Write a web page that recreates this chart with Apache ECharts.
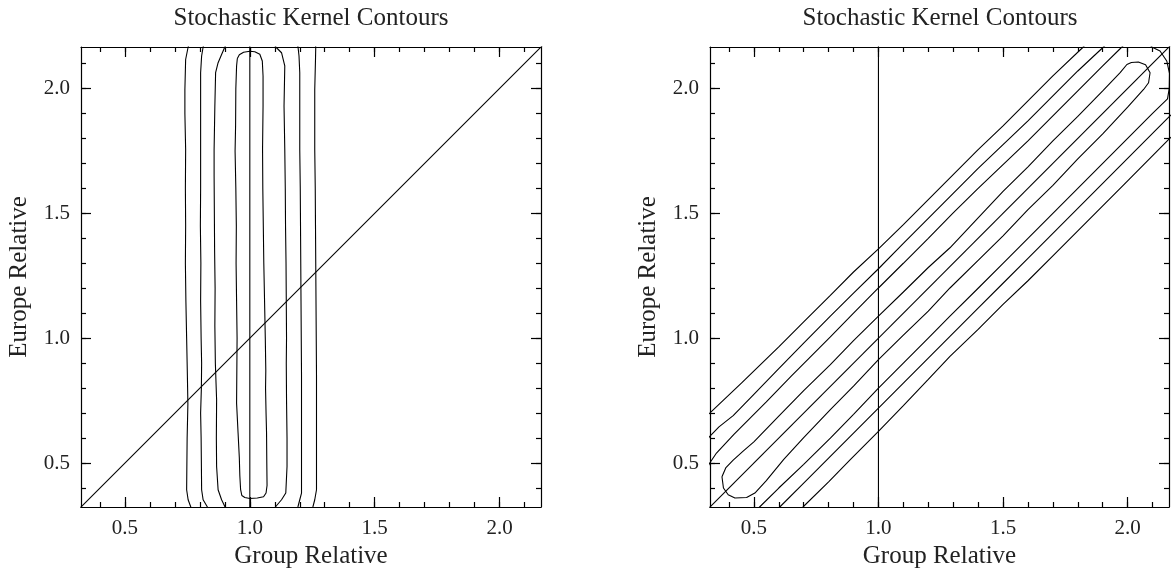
<!DOCTYPE html>
<html>
<head>
<meta charset="utf-8">
<title>Stochastic Kernel Contours</title>
<script src="https://cdn.jsdelivr.net/npm/echarts@6/dist/echarts.min.js"></script>
<style>
  html, body { margin: 0; padding: 0; background: #fff; }
  #chart { width: 1171px; height: 571px; }
</style>
</head>
<body>
<div id="chart"></div>
<script>
// axis range (same for both panels and both axes)
const axMin = 0.324
const axMax = 2.166
const majorTicks = [0.5, 1.0, 1.5, 2.0]
const minorTicks = [0.4, 0.5, 0.6, 0.7, 0.8, 0.9, 1.0, 1.1, 1.2, 1.3, 1.4, 1.5, 1.6, 1.7, 1.8, 1.9, 2.0, 2.1]

const panelTitle = 'Stochastic Kernel Contours'
const xName = 'Group Relative'
const yName = 'Europe Relative'

// reference lines
const diagonal = [[0.2, 0.2], [2.3, 2.3]]
const unitLine = [[1.0, 0.2], [1.0, 2.3]]

// left panel: contour loops (x, y), inner to outer
const leftLevel1 = [[0.95, 2.12], [0.947, 2.09], [0.944, 2.0], [0.943, 1.85], [0.941, 1.75], [0.944, 1.6], [0.946, 1.45],
  [0.945, 1.3], [0.947, 1.15], [0.949, 1.0], [0.948, 0.87], [0.947, 0.74], [0.953, 0.62], [0.958, 0.52], [0.96, 0.45],
  [0.963, 0.395], [0.968, 0.37], [0.98, 0.362], [1.0, 0.358], [1.03, 0.36], [1.055, 0.365], [1.065, 0.38], [1.069, 0.41],
  [1.068, 0.5], [1.067, 0.62], [1.065, 0.7], [1.063, 0.8], [1.064, 0.87], [1.062, 1.0], [1.059, 1.15], [1.056, 1.3],
  [1.054, 1.45], [1.052, 1.6], [1.051, 1.76], [1.053, 1.93], [1.053, 2.05], [1.05, 2.11], [1.04, 2.137], [1.02, 2.147],
  [1.0, 2.149], [0.975, 2.145], [0.958, 2.135], [0.95, 2.12]]
const leftLevel2 = [[1.0, 0.25], [0.93, 0.27], [0.9, 0.326], [0.887, 0.353], [0.873, 0.393], [0.867, 0.486], [0.866, 0.6],
  [0.867, 0.754], [0.862, 0.9], [0.86, 1.05], [0.861, 1.2], [0.859, 1.35], [0.858, 1.5], [0.857, 1.65], [0.857, 1.756],
  [0.86, 1.93], [0.863, 2.063], [0.873, 2.103], [0.887, 2.136], [0.9, 2.166], [0.93, 2.22], [1.0, 2.24], [1.07, 2.22],
  [1.104, 2.166], [1.127, 2.143], [1.14, 2.09], [1.137, 1.93], [1.14, 1.756], [1.142, 1.6], [1.143, 1.45], [1.145, 1.3],
  [1.146, 1.15], [1.147, 1.0], [1.146, 0.9], [1.147, 0.754], [1.149, 0.6], [1.149, 0.486], [1.144, 0.38], [1.127, 0.353],
  [1.104, 0.326], [1.07, 0.27], [1.0, 0.25]]
const leftLevel3 = [[1.0, 0.24], [0.85, 0.27], [0.829, 0.326], [0.813, 0.353], [0.807, 0.393], [0.806, 0.5], [0.805, 0.6],
  [0.803, 0.7], [0.806, 0.8], [0.807, 0.9], [0.805, 1.0], [0.803, 1.15], [0.804, 1.3], [0.802, 1.45], [0.803, 1.6],
  [0.803, 1.756], [0.803, 1.9], [0.803, 2.063], [0.807, 2.13], [0.813, 2.166], [0.83, 2.22], [1.0, 2.25], [1.18, 2.22],
  [1.193, 2.166], [1.197, 2.13], [1.2, 2.063], [1.2, 1.9], [1.2, 1.756], [1.202, 1.6], [1.203, 1.45], [1.204, 1.3],
  [1.205, 1.15], [1.206, 1.0], [1.207, 0.85], [1.207, 0.754], [1.207, 0.6], [1.207, 0.45], [1.207, 0.38], [1.2, 0.353],
  [1.193, 0.326], [1.17, 0.27], [1.0, 0.24]]
const leftLevel4 = [[1.0, 0.22], [0.78, 0.26], [0.763, 0.326], [0.753, 0.353], [0.747, 0.393], [0.748, 0.5], [0.749, 0.6],
  [0.752, 0.736], [0.75, 0.85], [0.747, 1.0], [0.744, 1.15], [0.742, 1.3], [0.743, 1.45], [0.742, 1.6], [0.743, 1.756],
  [0.74, 1.9], [0.74, 1.996], [0.743, 2.116], [0.753, 2.166], [0.78, 2.23], [1.0, 2.26], [1.25, 2.22], [1.264, 2.166],
  [1.263, 2.116], [1.26, 1.996], [1.26, 1.85], [1.26, 1.756], [1.262, 1.6], [1.263, 1.45], [1.264, 1.3], [1.265, 1.15],
  [1.266, 1.0], [1.267, 0.85], [1.267, 0.754], [1.267, 0.6], [1.267, 0.393], [1.26, 0.353], [1.253, 0.326], [1.22, 0.26],
  [1.0, 0.22]]

// right panel: contour loops along the diagonal, inner to outer
const rightLevel1 = [[0.372, 0.445], [0.378, 0.4], [0.397, 0.373], [0.424, 0.36], [0.471, 0.362], [0.504, 0.38],
  [0.55, 0.43], [0.62, 0.515], [0.7, 0.602], [0.807, 0.714], [0.9, 0.808], [1.0, 0.914], [1.1, 1.012], [1.2, 1.108],
  [1.287, 1.201], [1.4, 1.312], [1.5, 1.41], [1.6, 1.515], [1.7, 1.612], [1.8, 1.718], [1.9, 1.818], [2.0, 1.925],
  [2.064, 1.996], [2.084, 2.023], [2.09, 2.063], [2.072, 2.095], [2.043, 2.106], [2.015, 2.104], [1.997, 2.096],
  [1.97, 2.063], [1.9, 1.99], [1.8, 1.888], [1.7, 1.79], [1.6, 1.686], [1.5, 1.588], [1.4, 1.482], [1.287, 1.362],
  [1.2, 1.283], [1.1, 1.185], [1.0, 1.088], [0.9, 0.99], [0.807, 0.894], [0.7, 0.79], [0.6, 0.688], [0.5, 0.585],
  [0.457, 0.548], [0.417, 0.512], [0.388, 0.482], [0.372, 0.445]]
const rightLevel2 = [[0.2, 0.35], [0.3, 0.455], [0.323, 0.5], [0.35, 0.54], [0.42, 0.615], [0.55, 0.745], [0.65, 0.848],
  [0.807, 1.005], [0.9, 1.1], [1.0, 1.201], [1.1, 1.3], [1.2, 1.4], [1.3, 1.502], [1.4, 1.6], [1.5, 1.695], [1.6, 1.79],
  [1.7, 1.89], [1.8, 1.99], [1.9, 2.09], [1.977, 2.166], [2.02, 2.21], [2.06, 2.21], [2.097, 2.166], [2.13, 2.15],
  [2.157, 2.11], [2.168, 2.06], [2.167, 2.0], [2.16, 1.958], [2.1, 1.9], [2.0, 1.8], [1.9, 1.7], [1.8, 1.6], [1.7, 1.5],
  [1.6, 1.4], [1.5, 1.3], [1.4, 1.2], [1.287, 1.088], [1.2, 1.0], [1.1, 0.9], [1.0, 0.8], [0.9, 0.695], [0.807, 0.6],
  [0.7, 0.495], [0.6, 0.4], [0.524, 0.325], [0.48, 0.28], [0.45, 0.2], [0.2, 0.2], [0.2, 0.35]]
const rightLevel3 = [[0.2, 0.4], [0.3, 0.57], [0.323, 0.607], [0.36, 0.645], [0.417, 0.69], [0.5, 0.775], [0.6, 0.878],
  [0.7, 0.98], [0.807, 1.088], [0.9, 1.18], [1.0, 1.278], [1.1, 1.38], [1.2, 1.48], [1.3, 1.58], [1.4, 1.68],
  [1.5, 1.775], [1.6, 1.87], [1.7, 1.97], [1.8, 2.07], [1.903, 2.166], [1.95, 2.21], [2.1, 2.3], [2.25, 2.2],
  [2.25, 2.0], [2.2, 1.92], [2.165, 1.885], [2.0, 1.72], [1.9, 1.62], [1.8, 1.52], [1.7, 1.42], [1.6, 1.32],
  [1.5, 1.22], [1.4, 1.12], [1.287, 1.007], [1.2, 0.92], [1.1, 0.82], [1.0, 0.72], [0.9, 0.62], [0.8, 0.52],
  [0.7, 0.42], [0.605, 0.325], [0.57, 0.28], [0.45, 0.2], [0.2, 0.2], [0.2, 0.4]]
const rightLevel4 = [[0.2, 0.58], [0.3, 0.68], [0.323, 0.7], [0.45, 0.82], [0.6, 0.965], [0.7, 1.065], [0.807, 1.171],
  [0.9, 1.265], [1.0, 1.358], [1.1, 1.455], [1.2, 1.555], [1.3, 1.655], [1.4, 1.755], [1.5, 1.85], [1.6, 1.95],
  [1.7, 2.05], [1.822, 2.166], [1.9, 2.25], [2.3, 2.3], [2.3, 1.9], [2.2, 1.83], [2.165, 1.796], [2.0, 1.63],
  [1.9, 1.53], [1.8, 1.43], [1.7, 1.33], [1.6, 1.23], [1.5, 1.135], [1.4, 1.035], [1.287, 0.927], [1.2, 0.835],
  [1.1, 0.73], [1.0, 0.627], [0.886, 0.513], [0.8, 0.425], [0.698, 0.325], [0.66, 0.28], [0.2, 0.2], [0.2, 0.58]]

const fontFamily = '"Liberation Serif", "DejaVu Serif", serif'
const ink = '#000'

const chart = echarts.init(document.getElementById('chart'))

// builds the 4 framed sides for one grid: major ticks (+labels) and minor ticks
function frameAxes (gridIndex, dim) {
  const lowSide = dim === 'x' ? 'bottom' : 'left'
  const highSide = dim === 'x' ? 'top' : 'right'
  const axes = []
  ;[lowSide, highSide].forEach(pos => {
    const withLabels = pos === lowSide
    axes.push({
      type: 'value',
      gridIndex,
      position: pos,
      min: axMin,
      max: axMax,
      name: withLabels ? (dim === 'x' ? xName : yName) : '',
      nameLocation: 'middle',
      nameGap: dim === 'x' ? 37 : 49,
      nameTextStyle: { fontFamily, fontSize: 25, color: '#222' },
      axisLine: { show: true, lineStyle: { color: ink, width: 1.2 } },
      axisTick: { show: true, inside: true, length: 10, customValues: majorTicks, lineStyle: { color: ink, width: 1.2 } },
      axisLabel: {
        show: withLabels,
        customValues: majorTicks,
        formatter: v => v.toFixed(1),
        margin: 11,
        fontFamily,
        fontSize: 21,
        color: '#222'
      },
      splitLine: { show: false }
    })
    axes.push({
      type: 'value',
      gridIndex,
      position: pos,
      min: axMin,
      max: axMax,
      axisLine: { show: false },
      axisTick: { show: true, inside: true, length: 5, customValues: minorTicks, lineStyle: { color: ink, width: 1.2 } },
      axisLabel: { show: false },
      splitLine: { show: false }
    })
  })
  return axes
}

// major bottom/left axes sit at index 0 (grid 0) and 4 (grid 1)
function lineSeries (data, axisIndex, width) {
  return {
    type: 'line',
    xAxisIndex: axisIndex,
    yAxisIndex: axisIndex,
    data,
    symbol: 'none',
    silent: true,
    clip: true,
    lineStyle: { color: '#000', width }
  }
}

const leftLines = [leftLevel1, leftLevel2, leftLevel3, leftLevel4]
const rightLines = [rightLevel1, rightLevel2, rightLevel3, rightLevel4]

chart.setOption({
  animation: false,
  title: [
    { text: panelTitle, left: 311, top: 6, textAlign: 'center', padding: 0, textStyle: { fontFamily, fontSize: 25, fontWeight: 'normal', color: '#222' } },
    { text: panelTitle, left: 940, top: 6, textAlign: 'center', padding: 0, textStyle: { fontFamily, fontSize: 25, fontWeight: 'normal', color: '#222' } }
  ],
  grid: [
    { left: 81, top: 47, width: 460, height: 460, outerBoundsMode: 'none', containLabel: false },
    { left: 710, top: 47, width: 459, height: 460, outerBoundsMode: 'none', containLabel: false }
  ],
  xAxis: [...frameAxes(0, 'x'), ...frameAxes(1, 'x')],
  yAxis: [...frameAxes(0, 'y'), ...frameAxes(1, 'y')],
  series: [
    lineSeries(diagonal, 0, 1.1),
    lineSeries(unitLine, 0, 1.1),
    ...leftLines.map(d => lineSeries(d, 0, 1.1)),
    lineSeries(diagonal, 4, 1.1),
    lineSeries(unitLine, 4, 1.1),
    ...rightLines.map(d => lineSeries(d, 4, 1.1))
  ]
})
</script>
</body>
</html>
